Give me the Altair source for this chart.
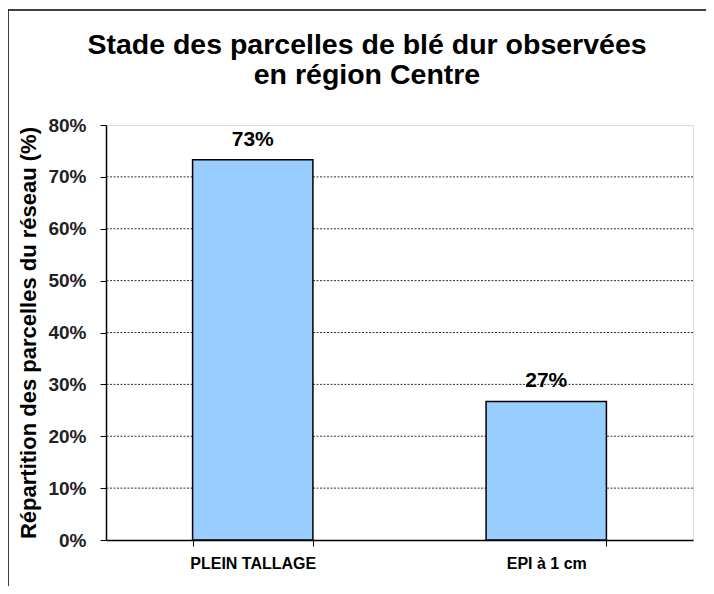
import altair as alt
import pandas as pd

categories = ["PLEIN TALLAGE", "EPI à 1 cm"]
values = [0.733, 0.267]
labels = ["73%", "27%"]
grid_values = [0.1, 0.2, 0.3, 0.4, 0.5, 0.6, 0.7]
tick_values = [0, 0.1, 0.2, 0.3, 0.4, 0.5, 0.6, 0.7, 0.8]

df = pd.DataFrame({"stade": categories, "part": values, "label": labels})
gdf = pd.DataFrame({"g": grid_values})

FONT = "Liberation Sans"

base = alt.Chart(df)

x = alt.X("stade:N", sort=categories, title=None,
          scale=alt.Scale(paddingInner=0.59, paddingOuter=0.295),
          axis=alt.Axis(labelAngle=0, labelFont=FONT, labelFontSize=16, labelFontWeight="bold",
                        labelColor="black", labelPadding=9, tickBand="extent",
                        domainColor="black", tickColor="black", tickSize=6,
                        domainWidth=1.5))

yscale = alt.Scale(domain=[0, 0.8])

grid = alt.Chart(gdf).mark_rule(color="#333", strokeDash=[2, 1.5], strokeWidth=1).encode(
    y=alt.Y("g:Q", scale=yscale)
)

bars = base.mark_bar(color="#99CCFF", stroke="black", strokeWidth=1.5).encode(
    x=x,
    y=alt.Y("part:Q", scale=yscale,
            title="Répartition des parcelles du réseau (%)",
            axis=alt.Axis(format=".0%", values=tick_values, grid=False,
                          labelFont=FONT, labelFontSize=19, labelFontWeight="bold",
                          labelColor="#222", labelPadding=14, tickSize=6, tickColor="black",
                          domainColor="black", domainWidth=1.5,
                          titleFont=FONT, titleFontSize=22, titleFontWeight="bold",
                          titleColor="black", titlePadding=7)),
)

text = base.mark_text(font=FONT, fontSize=21, fontWeight="bold", dy=-14, baseline="alphabetic",
                      color="black").encode(
    x=alt.X("stade:N", sort=categories),
    y="part:Q",
    text="label:N",
)

frame = alt.Chart(pd.DataFrame({"k": [0]})).mark_rule(color="black", strokeWidth=1.5).encode(
    x=alt.value(-98), x2=alt.value(720), y=alt.value(-115)
) + alt.Chart(pd.DataFrame({"k": [0]})).mark_rule(color="black", strokeWidth=1.5).encode(
    x=alt.value(-98), y=alt.value(-115), y2=alt.value(600)
)

chart = alt.layer(grid, bars, text, frame).properties(
    width=587, height=415,
    title=alt.Title(["Stade des parcelles de blé dur observées", "en région Centre"],
                    font=FONT, fontSize=28.5, fontWeight="bold", color="black",
                    anchor="middle", dx=-32.5, offset=-103, lineHeight=30, baseline="alphabetic"),
    autosize=alt.AutoSizeParams(type="none"),
    padding={"left": 98, "top": 117, "right": 13, "bottom": 46},
).configure_view(stroke="#777", strokeWidth=1.5).configure(background="white")

chart.save("out.html", embed_options={"renderer": "svg", "actions": False})
